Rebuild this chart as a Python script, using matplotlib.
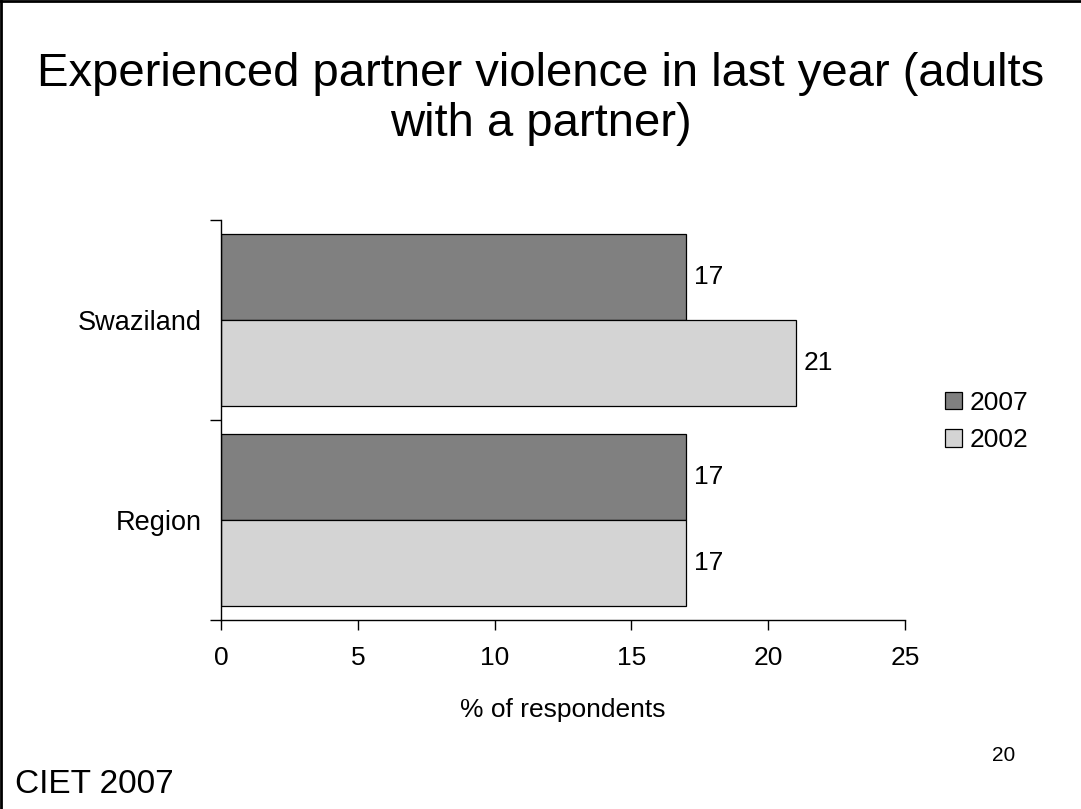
import numpy as np
import matplotlib.pyplot as plt
from matplotlib.lines import Line2D

# data
categories = ["Swaziland", "Region"]
series_names = ["2007", "2002"]
values_2007 = [17, 17]
values_2002 = [21, 17]
x_ticks = [0, 5, 10, 15, 20, 25]

title = "Experienced partner violence in last year (adults\nwith a partner)"
x_label = "% of respondents"
footer = "CIET 2007"
page_no = "20"

plt.rcParams["font.family"] = ["Liberation Sans", "DejaVu Sans"]

dark = "#808080"
light = "#d4d4d4"

fig = plt.figure(figsize=(10.81, 8.09), dpi=100)
ax = fig.add_axes([0.2044, 0.2336, 0.8372 - 0.2044, 0.7281 - 0.2336])

y = np.arange(len(categories))
h = 0.43
bars_a = ax.barh(y - h / 2, values_2007, height=h, color=dark,
                 edgecolor="black", linewidth=0.9, label=series_names[0])
bars_b = ax.barh(y + h / 2, values_2002, height=h, color=light,
                 edgecolor="black", linewidth=0.9, label=series_names[1])

for bars in (bars_a, bars_b):
    for b in bars:
        ax.text(b.get_width() + 0.3, b.get_y() + b.get_height() / 2,
                f"{b.get_width():g}", va="center", ha="left", fontsize=19)

ax.set_xlim(0, 25)
ax.set_ylim(len(categories) - 0.5, -0.5)
ax.set_xticks(x_ticks)
ax.set_xticklabels([str(t) for t in x_ticks], fontsize=19)
ax.set_yticks(y)
ax.set_yticklabels(categories, fontsize=19.5)
ax.set_yticks(np.arange(len(categories) + 1) - 0.5, minor=True)
ax.tick_params(axis="y", which="major", length=0, pad=14)
ax.tick_params(axis="y", which="minor", length=8, width=1)
ax.tick_params(axis="x", which="major", length=7, width=1, pad=12)
ax.set_xlabel(x_label, fontsize=19, labelpad=20)

for side in ("top", "right"):
    ax.spines[side].set_visible(False)
for side in ("left", "bottom"):
    ax.spines[side].set_linewidth(1)

ax.legend(loc="center left", bbox_to_anchor=(0.862, 0.479),
          bbox_transform=fig.transFigure, frameon=False, fontsize=19,
          handlelength=0.65, handleheight=0.65, handletextpad=0.3,
          labelspacing=0.5, borderpad=0)

fig.text(0.5, 0.878, title, ha="center", va="center", fontsize=34,
         linespacing=1.18)
fig.text(0.014, 0.03, footer, ha="left", va="center", fontsize=24)
fig.text(0.918, 0.066, page_no, ha="left", va="center", fontsize=15)

# slide border on top and left
fig.add_artist(Line2D([0.001, 0.001], [0, 0.999], transform=fig.transFigure,
                      color="black", linewidth=2))
fig.add_artist(Line2D([0, 1], [0.999, 0.999], transform=fig.transFigure,
                      color="black", linewidth=2))

fig.savefig("out.png", dpi=100)
